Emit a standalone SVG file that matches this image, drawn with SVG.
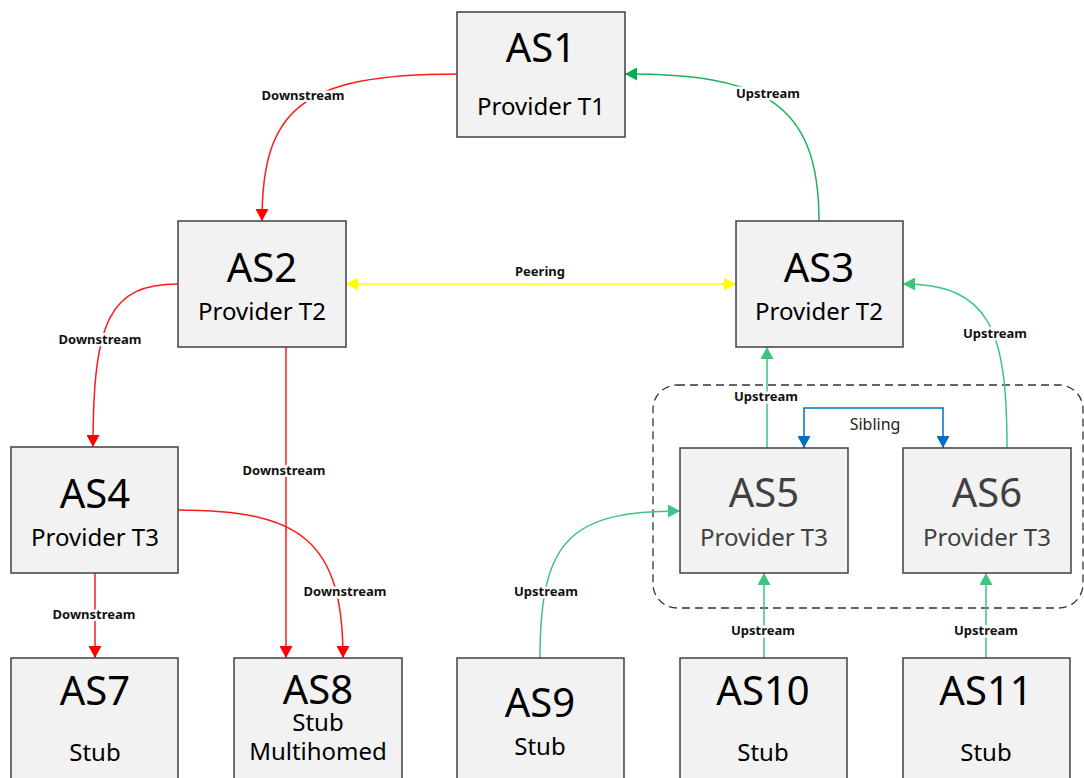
<svg xmlns="http://www.w3.org/2000/svg" width="1084" height="778" viewBox="0 0 1084 778">
<style>
.box{fill:#f2f2f2;stroke:#404040;stroke-width:1.5}
.t{font-family:"Noto Sans","Liberation Sans",sans-serif;font-size:40px;fill:#000;text-anchor:middle}
.s{font-family:"Noto Sans","Liberation Sans",sans-serif;font-size:24px;fill:#000;text-anchor:middle}
.g{fill:#404040}
.lbl{font-family:"Noto Sans","Liberation Sans",sans-serif;font-size:13px;font-weight:bold;fill:#111;text-anchor:middle;stroke:#fff;stroke-width:5;paint-order:stroke;stroke-linejoin:round}
.sib{font-family:"Noto Sans","Liberation Sans",sans-serif;font-size:16px;fill:#222;text-anchor:middle}
.red{fill:none;stroke:#ff1a1a;stroke-width:1.5;marker-end:url(#mr)}
.gd{fill:none;stroke:#1db35a;stroke-width:1.5;marker-end:url(#mg)}
.gl{fill:none;stroke:#3cc57f;stroke-width:1.5;marker-end:url(#ml)}
</style>
<defs>
<marker id="mr" markerUnits="userSpaceOnUse" markerWidth="13" markerHeight="13" refX="12" refY="6.5" orient="auto"><path d="M0,0 L12,6.5 L0,13 z" fill="#ff0000"/></marker>
<marker id="mg" markerUnits="userSpaceOnUse" markerWidth="13" markerHeight="13" refX="12" refY="6.5" orient="auto"><path d="M0,0 L12,6.5 L0,13 z" fill="#00b050"/></marker>
<marker id="ml" markerUnits="userSpaceOnUse" markerWidth="13" markerHeight="13" refX="12" refY="6.5" orient="auto"><path d="M0,0 L12,6.5 L0,13 z" fill="#3cc57f"/></marker>
<marker id="my" markerUnits="userSpaceOnUse" markerWidth="13" markerHeight="13" refX="12" refY="6.5" orient="auto-start-reverse"><path d="M0,0 L12,6.5 L0,13 z" fill="#ffff00"/></marker>
<marker id="mb" markerUnits="userSpaceOnUse" markerWidth="13" markerHeight="13" refX="12" refY="6.5" orient="auto-start-reverse"><path d="M0,0 L12,6.5 L0,13 z" fill="#0070c0"/></marker>
</defs>
<rect width="1084" height="778" fill="#fff"/>

<rect id="sibling-group" x="653" y="385" width="430" height="223" rx="24" fill="none" stroke="#333" stroke-width="1.3" stroke-dasharray="8,5"/>

<g id="connectors">
<path class="red" d="M457,74 C300,74 262,110 262,221"/>
<path class="gd" d="M819,221 C819,100 760,74 625,74"/>
<path d="M346,284 L736,284" fill="none" stroke="#ffff00" stroke-width="1.5" marker-start="url(#my)" marker-end="url(#my)"/>
<path class="red" d="M178,284 C110,284 93,320 93,447"/>
<path class="red" d="M286,347 L286,658"/>
<path class="red" d="M95,573 L95,658"/>
<path class="red" d="M178,510 C300,510 343,540 343,658"/>
<path class="gl" d="M767,448 L767,347"/>
<path class="gl" d="M1007,448 C1007,330 990,284 903,284"/>
<path d="M804,448 L804,408 L943,408 L943,448" fill="none" stroke="#0070c0" stroke-width="1.5" marker-start="url(#mb)" marker-end="url(#mb)"/>
<path class="gl" d="M540,658 C540,540 570,511 680,511"/>
<path class="gl" d="M764,658 L764,573"/>
<path class="gl" d="M986,658 L986,573"/>
<text class="lbl" x="303" y="100">Downstream</text>
<text class="lbl" x="768" y="98">Upstream</text>
<text class="lbl" x="540" y="276">Peering</text>
<text class="lbl" x="100" y="344">Downstream</text>
<text class="lbl" x="284" y="475">Downstream</text>
<text class="lbl" x="94" y="619">Downstream</text>
<text class="lbl" x="345" y="596">Downstream</text>
<text class="lbl" x="995" y="338">Upstream</text>
<text class="lbl" x="766" y="401">Upstream</text>
<text class="sib" x="875" y="430">Sibling</text>
<text class="lbl" x="546" y="596">Upstream</text>
<text class="lbl" x="763" y="635">Upstream</text>
<text class="lbl" x="986" y="635">Upstream</text>
</g>

<g id="AS1"><rect class="box" x="457" y="12" width="168" height="125"/><text class="t" x="541" y="62">AS1</text><text class="s" x="541" y="115">Provider T1</text></g>
<g id="AS2"><rect class="box" x="178" y="221" width="168" height="126"/><text class="t" x="262" y="282">AS2</text><text class="s" x="262" y="320">Provider T2</text></g>
<g id="AS3"><rect class="box" x="736" y="221" width="167" height="126"/><text class="t" x="819" y="282">AS3</text><text class="s" x="819" y="320">Provider T2</text></g>
<g id="AS4"><rect class="box" x="11" y="447" width="167" height="126"/><text class="t" x="95" y="508">AS4</text><text class="s" x="95" y="546">Provider T3</text></g>
<g id="AS5"><rect class="box" x="680" y="448" width="168" height="125"/><text class="t g" x="764" y="507">AS5</text><text class="s g" x="764" y="546">Provider T3</text></g>
<g id="AS6"><rect class="box" x="903" y="448" width="168" height="125"/><text class="t g" x="987" y="507">AS6</text><text class="s g" x="987" y="546">Provider T3</text></g>
<g id="AS7"><rect class="box" x="11" y="658" width="167" height="126"/><text class="t" x="95" y="705">AS7</text><text class="s" x="95" y="761">Stub</text></g>
<g id="AS8"><rect class="box" x="234" y="658" width="168" height="126"/><text class="t" x="318" y="704">AS8</text><text class="s" x="318" y="731">Stub</text><text class="s" x="318" y="760">Multihomed</text></g>
<g id="AS9"><rect class="box" x="457" y="658" width="167" height="126"/><text class="t" x="540" y="717">AS9</text><text class="s" x="540" y="755">Stub</text></g>
<g id="AS10"><rect class="box" x="680" y="658" width="167" height="126"/><text class="t" x="763" y="705">AS10</text><text class="s" x="763" y="761">Stub</text></g>
<g id="AS11"><rect class="box" x="903" y="658" width="167" height="126"/><text class="t" x="986" y="705">AS11</text><text class="s" x="986" y="761">Stub</text></g>
</svg>
